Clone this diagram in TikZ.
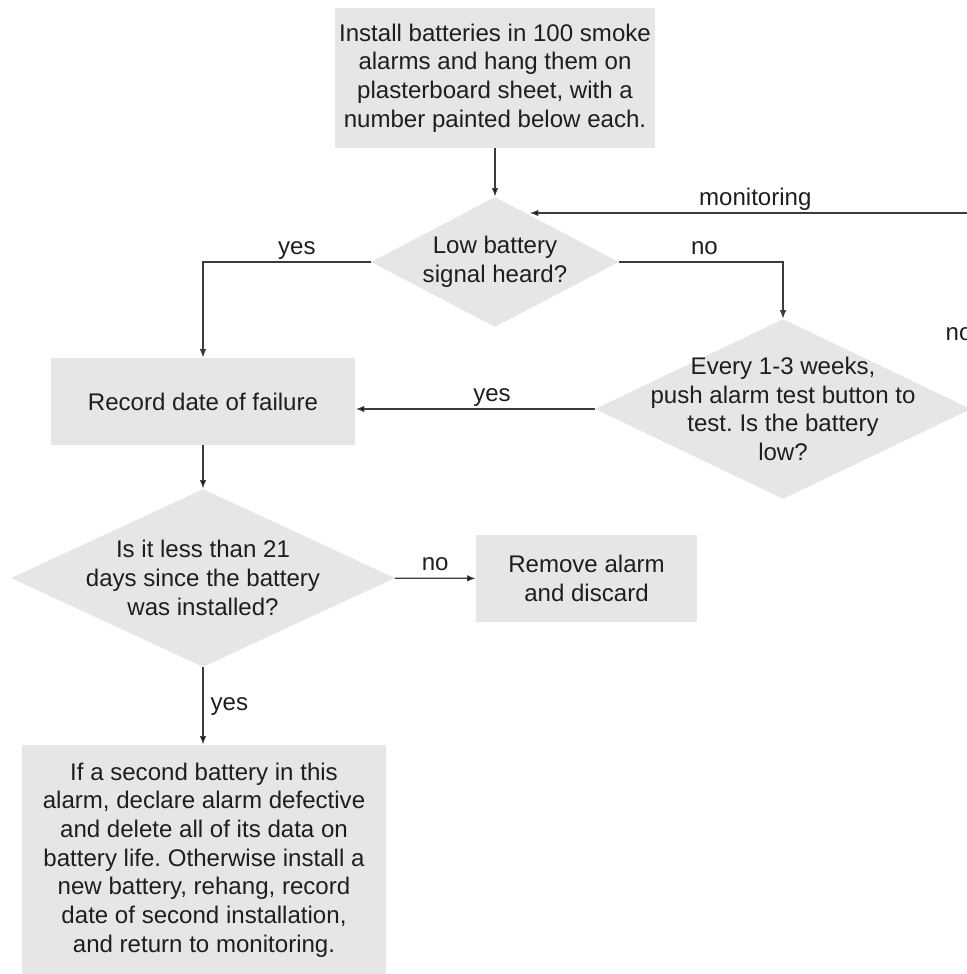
\documentclass[tikz,border=0pt]{standalone}
\usepackage{fontspec}
\setmainfont{Liberation Sans}
\usepackage{xcolor}
\usepackage{tikz}
\usetikzlibrary{shapes.geometric,arrows.meta,positioning,calc}
\definecolor{boxgray}{HTML}{E6E6E6}
\definecolor{linegray}{HTML}{3C3C3C}
\definecolor{textgray}{HTML}{1E1E1E}
\frenchspacing

\begin{document}
\begin{tikzpicture}[x=0.02cm,y=-0.02cm,>={Latex[length=1.7mm,width=1.3mm]},
    every node/.style={font=\fontsize{13.7}{16.3}\selectfont,text=textgray},
    stepbox/.style={rectangle,fill=boxgray,align=center,inner sep=0pt},
    choice/.style={diamond,fill=boxgray,inner sep=0pt},
    conn/.style={->,draw=linegray,line width=0.7pt},
    lbl/.style={inner sep=2pt,text depth=0.22em}]

    \useasboundingbox (0,0) rectangle (967,974);
    \clip (0,0) rectangle (967,974);

    % The boxes
    \node [stepbox,minimum width=6.4cm,minimum height=2.8cm] at (495,78) (install)
        {Install batteries in 100 smoke\\alarms and hang them on\\plasterboard sheet, with a\\number painted below each.};
    \node [stepbox,minimum width=6.1cm,minimum height=1.74cm] at (203,401.5) (record)
        {Record date of failure};
    \node [stepbox,minimum width=4.42cm,minimum height=1.74cm] at (586.5,578.5) (discard)
        {Remove alarm\\and discard};
    \node [stepbox,minimum width=7.28cm,minimum height=4.6cm] at (204,860) (redo)
        {If a second battery in this\\alarm, declare alarm defective\\and delete all of its data on\\battery life. Otherwise install a\\new battery, rehang, record\\date of second installation,\\and return to monitoring.};

    % The questions
    \node [choice,minimum width=4.96cm,minimum height=2.6cm,
        label={[align=center]center:Low battery\\signal heard?}] at (495,262) (heard) {};
    \node [choice,minimum width=7.52cm,minimum height=3.6cm,
        label={[align=center]center:Every 1-3 weeks,\\push alarm test button to\\test. Is the battery\\low?}] at (783,409) (test) {};
    \node [choice,minimum width=7.68cm,minimum height=3.56cm,
        label={[align=center]center:Is it less than 21\\days since the battery\\was installed?}] at (203,578) (days) {};

    \coordinate (monfrom) at (990,213);
    \coordinate (monto) at ($(heard.north)!0.28!(heard.east)$);
    \node [anchor=base] at (959,340) (lostno) {no};

    % Connectors
    \path[conn]
    (install) edge (heard)
    (record) edge (days)
    (days) edge node[lbl,above] {no} (discard)
    (days.south) edge node[lbl,right=2pt] {yes} (days.south |- redo.north)
    (test.west) edge node[lbl,above,pos=0.43] {yes} (test.west -| record.east)
    (monfrom) edge node[lbl,above,pos=0.51] {monitoring} (monfrom -| monto);

    \draw[conn] (heard.west) -| node[lbl,above,pos=0.22] {yes} (record.north);
    \draw[conn] (heard.east) -| node[lbl,above,pos=0.26] {no} (test.north);
\end{tikzpicture}
\end{document}
